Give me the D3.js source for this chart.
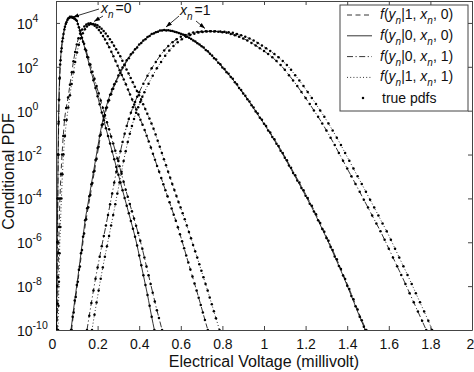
<!DOCTYPE html>
<html><head><meta charset="utf-8">
<script src="https://cdn.jsdelivr.net/npm/d3@7"></script>
<style>
body{margin:0;background:#fff;}
svg{display:block;font-family:"Liberation Sans",Arial,Helvetica,sans-serif;}
</style>
</head><body>
<svg id="c" width="474" height="372"></svg>
<script>
// ---------- data (x in millivolt, y as log10 of the conditional pdf) ----------
const xTicks = [0,0.2,0.4,0.6,0.8,1,1.2,1.4,1.6,1.8,2];
const xTickLabels = ["0","0.2","0.4","0.6","0.8","1","1.2","1.4","1.6","1.8","2"];
const yTickExps = [4,2,0,-2,-4,-6,-8,-10];

// x_n = 0 : solid  f(y|0,x,0)
const xS0 = [0.002,0.004,0.006,0.008,0.010,0.012,0.014,0.017,0.020,0.025,0.030,0.036,0.043,0.050,0.058,0.067,0.075,0.082,0.090,0.100,0.110,0.120,0.130,0.140,0.150,0.160,0.170,0.180,0.190,0.200,0.210,0.220,0.230,0.240,0.250,0.260,0.270,0.280,0.290,0.300,0.310,0.320,0.330,0.340,0.350,0.360,0.370,0.380,0.390,0.400,0.410,0.420,0.430,0.440,0.450,0.460,0.473];
const logS0 = [-10,-8,-6,-4,-2,-0.6,0.5,1.45,2.1,2.7,3.15,3.5,3.83,4.03,4.2,4.28,4.28,4.25,4.2,4.1,3.8,3.47,3.14,2.8,2.45,2.1,1.75,1.39,1.03,0.66,0.29,-0.08,-0.44,-0.8,-1.15,-1.5,-1.86,-2.21,-2.57,-2.92,-3.28,-3.63,-3.98,-4.33,-4.68,-5.03,-5.38,-5.75,-6.15,-6.6,-7.05,-7.5,-7.95,-8.4,-8.9,-9.4,-10];
// x_n = 0 : dash-dot f(y|0,x,1)
const xDD0 = [0.003,0.005,0.007,0.009,0.011,0.013,0.015,0.018,0.022,0.027,0.033,0.040,0.047,0.055,0.063,0.071,0.079,0.087,0.095,0.105,0.115,0.125,0.135,0.145,0.155,0.165,0.175,0.185,0.195,0.205,0.215,0.225,0.235,0.245,0.255,0.265,0.275,0.285,0.295,0.305,0.315,0.325,0.335,0.345,0.355,0.365,0.375,0.385,0.395,0.405,0.415,0.425,0.435,0.445,0.455,0.465,0.475,0.485,0.495,0.510];
const logDD0 = [-10,-8,-6,-4,-2,-0.5,0.5,1.5,2.3,2.85,3.3,3.7,3.95,4.13,4.23,4.26,4.24,4.2,4.14,3.95,3.65,3.33,3.05,2.74,2.42,2.1,1.77,1.45,1.12,0.79,0.46,0.13,-0.2,-0.53,-0.85,-1.18,-1.5,-1.83,-2.18,-2.53,-2.88,-3.24,-3.6,-3.93,-4.26,-4.59,-4.92,-5.25,-5.58,-5.93,-6.3,-6.7,-7.1,-7.5,-7.9,-8.3,-8.7,-9.1,-9.45,-10];
// x_n = 0 : dashed f(y|1,x,0)
const xD0 = [0.006,0.008,0.010,0.012,0.015,0.019,0.024,0.029,0.035,0.041,0.049,0.058,0.067,0.076,0.084,0.092,0.100,0.108,0.116,0.126,0.136,0.146,0.156,0.166,0.176,0.186,0.196,0.206,0.216,0.226,0.236,0.246,0.256,0.266,0.276,0.286,0.296,0.306,0.316,0.326,0.336,0.346,0.356,0.366,0.376,0.386,0.396,0.406,0.416,0.426,0.436,0.446,0.456,0.466,0.476,0.486,0.496,0.506,0.516,0.526,0.536,0.546,0.556,0.566,0.576,0.586,0.596,0.606,0.616,0.626,0.636,0.646,0.656,0.666,0.676,0.686,0.696,0.706,0.716,0.730];
const logD0 = [-10,-8.8,-7.6,-6.5,-5.3,-4.0,-2.9,-2.0,-1.15,-0.43,0.12,0.6,1.18,1.75,2.25,2.68,3.02,3.3,3.52,3.7,3.84,3.93,3.97,3.98,3.94,3.87,3.79,3.68,3.55,3.4,3.24,3.07,2.89,2.69,2.48,2.26,2.05,1.84,1.63,1.42,1.2,0.97,0.74,0.51,0.28,0.05,-0.18,-0.41,-0.64,-0.88,-1.14,-1.41,-1.68,-1.96,-2.24,-2.52,-2.79,-3.07,-3.35,-3.63,-3.9,-4.18,-4.46,-4.74,-5.02,-5.32,-5.63,-5.95,-6.27,-6.6,-6.92,-7.24,-7.56,-7.88,-8.2,-8.53,-8.86,-9.2,-9.54,-10];
// x_n = 0 : dotted f(y|1,x,1)
const xT0 = [0.010,0.012,0.014,0.017,0.021,0.026,0.031,0.036,0.043,0.051,0.059,0.067,0.075,0.084,0.092,0.101,0.110,0.119,0.129,0.139,0.149,0.159,0.169,0.179,0.189,0.199,0.209,0.219,0.229,0.239,0.249,0.259,0.269,0.279,0.289,0.299,0.309,0.319,0.329,0.339,0.349,0.359,0.369,0.379,0.389,0.399,0.409,0.419,0.429,0.439,0.449,0.459,0.469,0.479,0.489,0.499,0.509,0.519,0.529,0.539,0.549,0.559,0.569,0.579,0.589,0.599,0.609,0.619,0.629,0.639,0.649,0.659,0.669,0.679,0.689,0.699,0.709,0.719,0.729,0.739,0.749,0.759,0.769,0.786];
const logT0 = [-10,-8.9,-7.8,-6.5,-5.3,-4.0,-2.9,-2.0,-1.15,-0.43,0.15,0.7,1.22,1.75,2.22,2.65,3.0,3.3,3.53,3.71,3.84,3.92,3.95,3.95,3.93,3.89,3.82,3.73,3.63,3.52,3.39,3.26,3.12,2.96,2.8,2.64,2.48,2.28,2.08,1.88,1.69,1.49,1.29,1.09,0.9,0.7,0.5,0.29,0.08,-0.14,-0.36,-0.58,-0.82,-1.09,-1.37,-1.65,-1.93,-2.21,-2.49,-2.78,-3.06,-3.34,-3.62,-3.89,-4.16,-4.42,-4.68,-4.95,-5.24,-5.53,-5.82,-6.12,-6.41,-6.7,-7.0,-7.3,-7.6,-7.9,-8.2,-8.52,-8.83,-9.15,-9.46,-10];

// x_n = 1 : solid f(y|0,x,0)
const xS1 = [0.072,0.08,0.09,0.10,0.11,0.12,0.13,0.14,0.15,0.16,0.17,0.18,0.19,0.20,0.21,0.22,0.23,0.24,0.25,0.26,0.27,0.28,0.30,0.32,0.34,0.36,0.38,0.40,0.42,0.44,0.46,0.48,0.50,0.52,0.54,0.56,0.58,0.60,0.62,0.64,0.66,0.68,0.70,0.72,0.74,0.76,0.78,0.80,0.82,0.84,0.86,0.88,0.90,0.92,0.94,0.96,0.98,1.00,1.02,1.04,1.06,1.08,1.10,1.12,1.14,1.16,1.18,1.20,1.22,1.24,1.26,1.28,1.30,1.32,1.34,1.36,1.38,1.40,1.42,1.44,1.46,1.48,1.487];
const logS1 = [-10,-9.4,-8.65,-7.95,-7.25,-6.5,-5.75,-5.0,-4.45,-3.9,-3.35,-2.8,-2.25,-1.7,-1.15,-0.65,-0.25,0.12,0.45,0.73,0.98,1.2,1.6,1.97,2.3,2.57,2.8,3.02,3.2,3.36,3.49,3.58,3.65,3.68,3.67,3.63,3.57,3.51,3.42,3.32,3.2,3.07,2.94,2.77,2.59,2.39,2.19,1.97,1.75,1.53,1.3,1.03,0.78,0.52,0.25,-0.04,-0.32,-0.6,-0.9,-1.2,-1.51,-1.83,-2.15,-2.5,-2.84,-3.18,-3.53,-3.88,-4.24,-4.6,-5.0,-5.4,-5.8,-6.22,-6.65,-7.08,-7.52,-7.98,-8.45,-8.92,-9.4,-9.85,-10];
// x_n = 1 : dashed f(y|1,x,0)
const xD1 = [0.075,0.085,0.095,0.105,0.115,0.125,0.135,0.145,0.155,0.165,0.175,0.185,0.195,0.205,0.215,0.225,0.235,0.245,0.255,0.265,0.275,0.29,0.31,0.33,0.35,0.37,0.39,0.41,0.43,0.45,0.47,0.49,0.51,0.53,0.55,0.57,0.59,0.61,0.63,0.65,0.67,0.69,0.71,0.73,0.75,0.77,0.79,0.81,0.83,0.85,0.87,0.89,0.91,0.93,0.95,0.97,0.99,1.01,1.03,1.05,1.07,1.09,1.11,1.13,1.15,1.17,1.19,1.21,1.23,1.25,1.27,1.29,1.31,1.33,1.35,1.37,1.39,1.41,1.43,1.45,1.47,1.492];
const logD1 = [-10,-9.2,-8.5,-7.8,-7.1,-6.35,-5.6,-4.95,-4.4,-3.85,-3.3,-2.75,-2.2,-1.65,-1.1,-0.62,-0.22,0.15,0.47,0.75,1.0,1.33,1.72,2.08,2.39,2.65,2.88,3.08,3.26,3.4,3.52,3.6,3.65,3.66,3.64,3.6,3.54,3.47,3.38,3.27,3.15,3.02,2.88,2.71,2.52,2.33,2.12,1.9,1.68,1.45,1.2,0.94,0.68,0.42,0.15,-0.13,-0.41,-0.7,-1.0,-1.3,-1.61,-1.93,-2.26,-2.6,-2.94,-3.28,-3.63,-3.98,-4.34,-4.72,-5.12,-5.52,-5.93,-6.35,-6.78,-7.22,-7.67,-8.13,-8.6,-9.07,-9.55,-10];
// x_n = 1 : dash-dot f(y|0,x,1)
const xDD1 = [0.149,0.16,0.17,0.18,0.19,0.20,0.21,0.22,0.23,0.24,0.25,0.26,0.27,0.28,0.29,0.30,0.31,0.32,0.33,0.34,0.35,0.36,0.37,0.38,0.39,0.40,0.42,0.44,0.46,0.48,0.50,0.52,0.54,0.56,0.58,0.60,0.62,0.64,0.66,0.68,0.70,0.72,0.74,0.76,0.78,0.80,0.82,0.84,0.86,0.88,0.90,0.92,0.94,0.96,0.98,1.00,1.02,1.04,1.06,1.08,1.10,1.12,1.14,1.16,1.18,1.20,1.22,1.24,1.26,1.28,1.30,1.32,1.34,1.36,1.38,1.40,1.42,1.44,1.46,1.48,1.50,1.52,1.54,1.56,1.58,1.60,1.62,1.64,1.66,1.68,1.70,1.72,1.74,1.76,1.78];
const logDD1 = [-10,-9.35,-8.77,-8.2,-7.66,-7.15,-6.66,-6.18,-5.71,-5.24,-4.76,-4.27,-3.78,-3.28,-2.78,-2.3,-1.85,-1.43,-1.05,-0.7,-0.38,-0.1,0.16,0.4,0.63,0.84,1.23,1.59,1.93,2.22,2.5,2.74,2.95,3.12,3.26,3.37,3.45,3.51,3.56,3.59,3.61,3.62,3.62,3.61,3.6,3.58,3.55,3.5,3.44,3.37,3.29,3.2,3.09,2.97,2.85,2.72,2.58,2.43,2.26,2.08,1.86,1.62,1.38,1.12,0.85,0.58,0.3,0.01,-0.28,-0.58,-0.9,-1.23,-1.57,-1.93,-2.28,-2.64,-2.99,-3.34,-3.7,-4.06,-4.42,-4.78,-5.14,-5.5,-5.89,-6.29,-6.69,-7.09,-7.49,-7.9,-8.32,-8.74,-9.16,-9.58,-10];
// x_n = 1 : dotted f(y|1,x,1)
const xT1 = [0.173,0.185,0.195,0.205,0.215,0.225,0.235,0.245,0.255,0.265,0.275,0.285,0.295,0.305,0.315,0.325,0.335,0.345,0.355,0.365,0.375,0.385,0.395,0.405,0.415,0.425,0.445,0.465,0.485,0.505,0.525,0.545,0.565,0.585,0.605,0.625,0.645,0.665,0.685,0.705,0.725,0.745,0.765,0.79,0.81,0.83,0.85,0.87,0.89,0.91,0.93,0.95,0.97,0.99,1.01,1.03,1.05,1.07,1.09,1.11,1.13,1.15,1.17,1.19,1.21,1.23,1.25,1.27,1.29,1.31,1.33,1.35,1.37,1.39,1.41,1.43,1.45,1.47,1.49,1.51,1.53,1.55,1.57,1.59,1.61,1.63,1.65,1.67,1.69,1.71,1.73,1.75,1.77,1.79,1.808];
const logT1 = [-10,-9.3,-8.75,-8.2,-7.66,-7.15,-6.66,-6.18,-5.71,-5.24,-4.76,-4.27,-3.78,-3.28,-2.78,-2.3,-1.85,-1.43,-1.05,-0.7,-0.38,-0.1,0.16,0.4,0.63,0.84,1.23,1.59,1.93,2.22,2.5,2.74,2.95,3.12,3.26,3.37,3.45,3.51,3.56,3.59,3.61,3.62,3.62,3.61,3.6,3.58,3.55,3.5,3.44,3.37,3.29,3.2,3.09,2.97,2.85,2.72,2.58,2.43,2.26,2.08,1.86,1.62,1.38,1.12,0.85,0.58,0.3,0.01,-0.28,-0.58,-0.9,-1.23,-1.57,-1.93,-2.28,-2.64,-2.99,-3.34,-3.7,-4.06,-4.42,-4.78,-5.14,-5.5,-5.89,-6.29,-6.69,-7.09,-7.49,-7.9,-8.32,-8.74,-9.16,-9.58,-10];

const legendLabels = [
  {style:"dashed",  b:"1", c:"0"},
  {style:"solid",   b:"0", c:"0"},
  {style:"dashdot", b:"0", c:"1"},
  {style:"dotted",  b:"1", c:"1"}
];

// ---------- drawing ----------
const dashes = {solid:null, dashed:"5,3.5", dashdot:"6,2.5,1.2,2.5", dotted:"1,2.2"};
const series = [
  {x:xD0, l:logD0, s:"dashed"}, {x:xS0, l:logS0, s:"solid"},
  {x:xDD0, l:logDD0, s:"dashdot"}, {x:xT0, l:logT0, s:"dotted"},
  {x:xD1, l:logD1, s:"dashed"}, {x:xS1, l:logS1, s:"solid"},
  {x:xDD1, l:logDD1, s:"dashdot"}, {x:xT1, l:logT1, s:"dotted"}
];

const svg = d3.select("#c");
const L=56, R=472, T=1, B=330;
const x = d3.scaleLinear().domain([0,2]).range([L,R]);
const y = d3.scaleLog().domain([1e-10,1e5]).range([B,T]);
const axisCol = "#444";

svg.append("defs").append("clipPath").attr("id","clip")
  .append("rect").attr("x",L).attr("y",T).attr("width",R-L).attr("height",B-T);
const mk = svg.select("defs").append("marker").attr("id","arr")
  .attr("viewBox","0 0 10 10").attr("refX",10).attr("refY",5)
  .attr("markerWidth",6).attr("markerHeight",6).attr("orient","auto")
  .attr("markerUnits","userSpaceOnUse");
mk.append("path").attr("d","M0,1.5 L10,5 L0,8.5 Z").attr("fill","#000");

// axes
function styleAxis(g){
  g.select(".domain").attr("stroke",axisCol).attr("stroke-width",1);
  g.selectAll(".tick line").attr("stroke",axisCol);
}
svg.append("g").attr("transform",`translate(0,${B})`)
  .call(d3.axisBottom(x).tickValues(xTicks).tickSize(-4).tickSizeOuter(0).tickPadding(9)
        .tickFormat((d,i)=>xTickLabels[i]))
  .call(styleAxis)
  .call(g=>g.selectAll("text").attr("font-size",14).attr("fill","#111")
        .attr("font-family","Liberation Sans, Arial, sans-serif"))
  .call(g=>g.selectAll(".tick").filter(d=>d===0).select("text").attr("dx",-4))
  .call(g=>g.selectAll(".tick").filter(d=>d===2).select("text").attr("dx",-2));
svg.append("g").attr("transform",`translate(0,${T})`)
  .call(d3.axisTop(x).tickValues(xTicks).tickSize(-4).tickSizeOuter(0).tickFormat(""))
  .call(styleAxis);
const yTickVals = yTickExps.map(e=>Math.pow(10,e));
svg.append("g").attr("transform",`translate(${L},0)`)
  .call(d3.axisLeft(y).tickValues(yTickVals).tickSize(-4).tickSizeOuter(0).tickFormat(""))
  .call(styleAxis);
svg.append("g").attr("transform",`translate(${R},0)`)
  .call(d3.axisRight(y).tickValues(yTickVals).tickSize(-4).tickSizeOuter(0).tickFormat(""))
  .call(styleAxis);

// y tick labels 10^e
yTickExps.forEach(e=>{
  const t = svg.append("text").attr("x",17).attr("y",y(Math.pow(10,e))+6)
    .attr("font-size",14).attr("fill","#111");
  t.append("tspan").text("10");
  t.append("tspan").attr("dy",-7).attr("font-size",10.5).text(e<0?("-"+(-e)):String(e));
});

// axis titles
svg.append("text").attr("x",(L+R)/2).attr("y",367).attr("text-anchor","middle")
  .attr("font-size",16).attr("fill","#111").text("Electrical Voltage (millivolt)");
svg.append("text").attr("transform",`translate(14,${(T+B)/2+6}) rotate(-90)`)
  .attr("text-anchor","middle").attr("font-size",16).attr("fill","#111").text("Conditional PDF");

// curves
const plot = svg.append("g").attr("clip-path","url(#clip)");
const line = d3.line().x(d=>x(d[0])).y(d=>y(Math.pow(10,d[1]))).curve(d3.curveMonotoneX);
series.forEach(s=>{
  const pts = s.x.map((v,i)=>[v,s.l[i]]);
  plot.append("path").attr("d",line(pts)).attr("fill","none").attr("stroke","#000")
    .attr("stroke-width",0.8).attr("stroke-dasharray",dashes[s.s]);
});
// true pdf samples
series.forEach(s=>{
  plot.selectAll(null).data(s.x.map((v,i)=>[v,s.l[i]])).enter().append("circle")
    .attr("cx",d=>x(d[0])).attr("cy",d=>y(Math.pow(10,d[1]))).attr("r",1.25).attr("fill","#000");
});

// annotations
function annot(ax, ay, val){
  const t = svg.append("text").attr("x",ax).attr("y",ay).attr("font-size",14).attr("fill","#111");
  t.append("tspan").attr("font-style","italic").text("x");
  t.append("tspan").attr("dy",5).attr("font-size",10).attr("font-style","italic").text("n");
  t.append("tspan").attr("dy",-5).attr("dx",2).text("="+val);
}
annot(101,13,"0");
annot(180,15,"1");
const arrows = [[99,9,73,17],[103,16,94,21.5],[179,16,166,27],[196,21,205,28.5]];
svg.selectAll(null).data(arrows).enter().append("line")
  .attr("x1",d=>d[0]).attr("y1",d=>d[1]).attr("x2",d=>d[2]).attr("y2",d=>d[3])
  .attr("stroke","#000").attr("stroke-width",0.8).attr("marker-end","url(#arr)");

// legend
const lg = svg.append("g");
lg.append("rect").attr("x",340).attr("y",5).attr("width",128).attr("height",106)
  .attr("fill","#fff").attr("stroke",axisCol).attr("stroke-width",1);
legendLabels.forEach((d,i)=>{
  const cy = 15 + i*20.8;
  lg.append("line").attr("x1",347).attr("x2",372).attr("y1",cy).attr("y2",cy)
    .attr("stroke","#000").attr("stroke-width",0.8).attr("stroke-dasharray",dashes[d.style]);
  const t = lg.append("text").attr("x",380).attr("y",cy+4).attr("font-size",14).attr("fill","#111");
  t.append("tspan").attr("font-style","italic").text("f");
  t.append("tspan").text("(");
  t.append("tspan").attr("font-style","italic").text("y");
  t.append("tspan").attr("dy",5).attr("font-size",10).attr("font-style","italic").text("n");
  t.append("tspan").attr("dy",-5).text("|"+d.b+", ");
  t.append("tspan").attr("font-style","italic").text("x");
  t.append("tspan").attr("dy",5).attr("font-size",10).attr("font-style","italic").text("n");
  t.append("tspan").attr("dy",-5).text(", "+d.c+")");
});
lg.append("circle").attr("cx",363).attr("cy",98).attr("r",1.25).attr("fill","#000");
lg.append("text").attr("x",382).attr("y",103).attr("font-size",14).attr("fill","#111").text("true pdfs");
</script>
</body></html>
